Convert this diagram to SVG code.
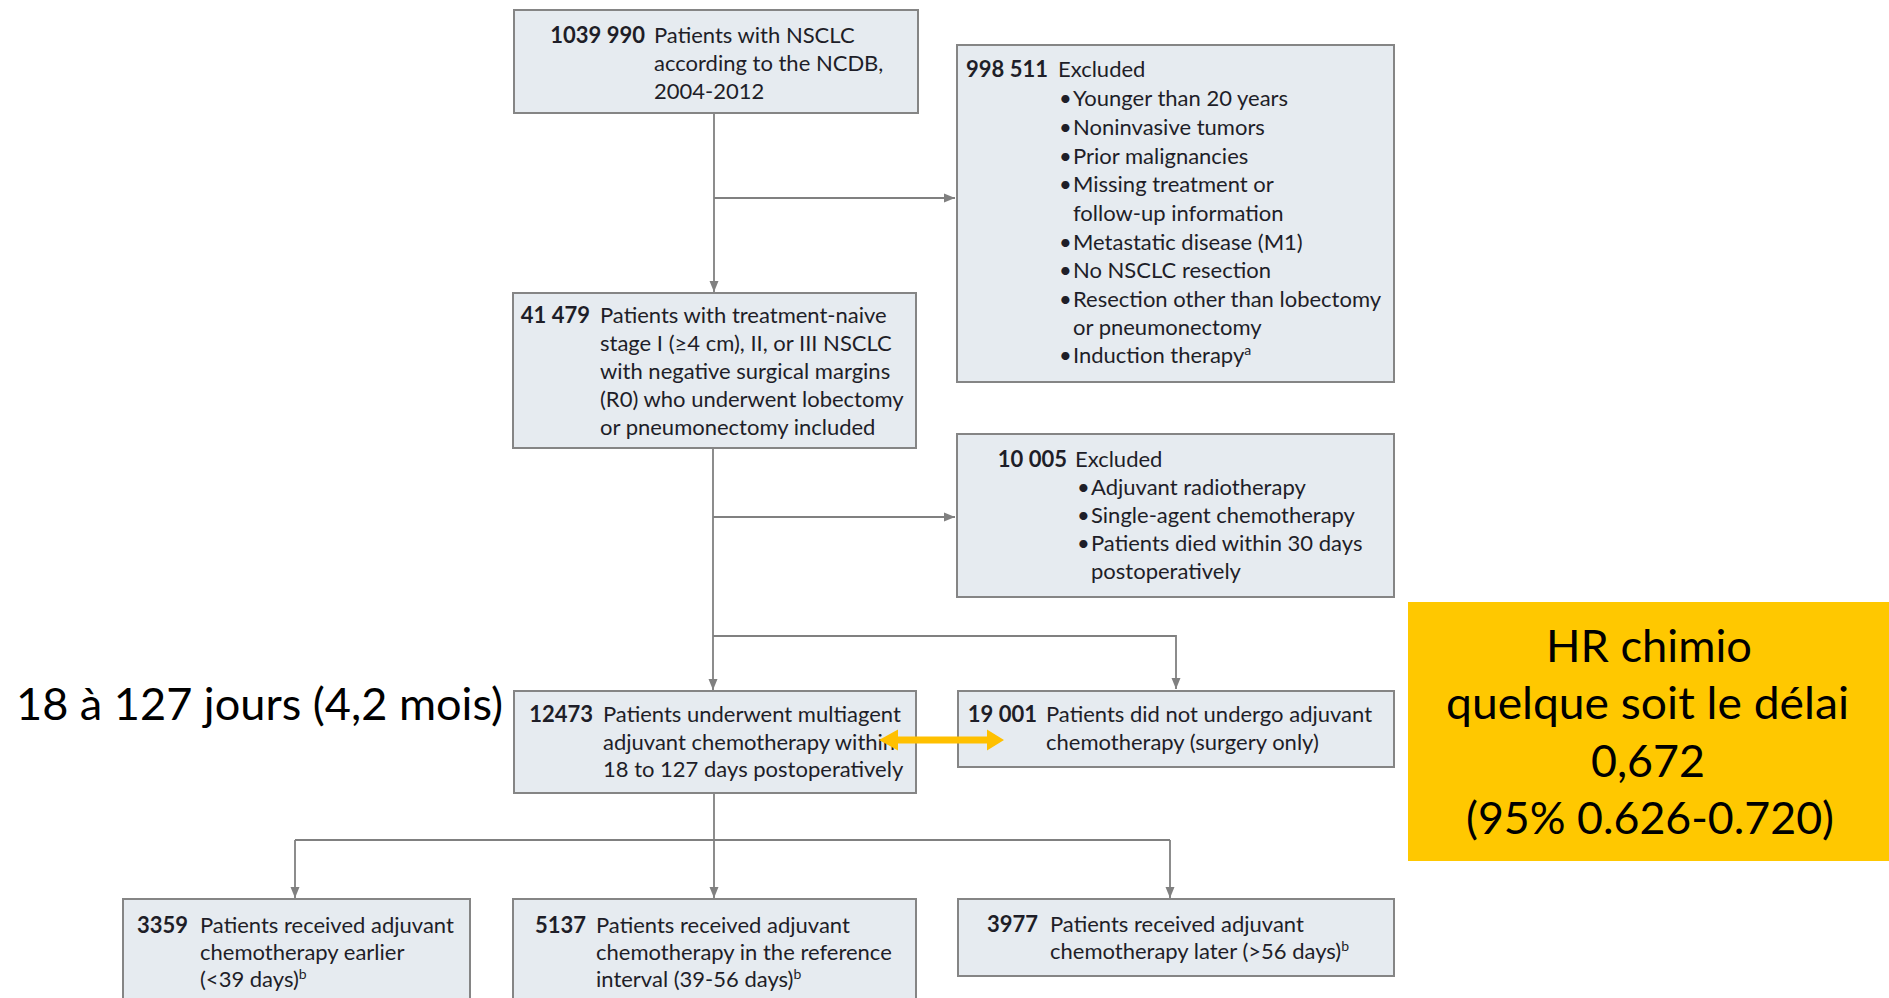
<svg xmlns="http://www.w3.org/2000/svg" width="1889" height="998" viewBox="0 0 1889 998">
  <style>
    .box { fill: #E6EBF0; stroke: #858585; stroke-width: 2; }
    .t { font-family: Lato, "Open Sans", "Liberation Sans", sans-serif; font-size: 22px; fill: #1E1E28; }
    .n { font-family: Lato, "Open Sans", "Liberation Sans", sans-serif; font-size: 22px; font-weight: bold; fill: #1E1E28; text-anchor: end; }
    .sup { font-size: 14px; }
    .wire { fill: none; stroke: #808080; stroke-width: 1.8; }
    .big { font-family: Lato, Carlito, "Open Sans", sans-serif; font-size: 44px; fill: #000; }
  </style>
  <defs>
    <marker id="ah" markerUnits="userSpaceOnUse" markerWidth="12" markerHeight="12" viewBox="0 0 12 12" refX="11" refY="6" orient="auto">
      <path d="M0,1.5 L11,6 L0,10.5 Z" fill="#808080"/>
    </marker>
  </defs>

  <!-- connectors -->
  <g id="connectors">
    <path class="wire" d="M714,113 V292" marker-end="url(#ah)"/>
    <path class="wire" d="M714,198 H955" marker-end="url(#ah)"/>
    <path class="wire" d="M713,448 V690" marker-end="url(#ah)"/>
    <path class="wire" d="M713,517 H955" marker-end="url(#ah)"/>
    <path class="wire" d="M713,636 H1176 V689" marker-end="url(#ah)"/>
    <path class="wire" d="M714,793 V898" marker-end="url(#ah)"/>
    <path class="wire" d="M295,840 H1170"/>
    <path class="wire" d="M295,840 V898" marker-end="url(#ah)"/>
    <path class="wire" d="M1170,840 V898" marker-end="url(#ah)"/>
  </g>

  <!-- source population -->
  <g id="n-ncdb">
    <rect class="box" x="514" y="10" width="404" height="103"/>
    <text class="n" x="645" y="43">1039 990</text>
    <text class="t" x="654" y="43">Patients with NSCLC</text>
    <text class="t" x="654" y="71">according to the NCDB,</text>
    <text class="t" x="654" y="99">2004-2012</text>
  </g>

  <!-- first exclusion -->
  <g id="n-excl1">
    <rect class="box" x="957" y="45" width="437" height="337"/>
    <text class="n" x="1048" y="77">998 511</text>
    <text class="t" x="1058" y="77">Excluded</text>
    <text class="t" x="1059" y="106">•</text><text class="t" x="1073" y="106">Younger than 20 years</text>
    <text class="t" x="1059" y="135">•</text><text class="t" x="1073" y="135">Noninvasive tumors</text>
    <text class="t" x="1059" y="164">•</text><text class="t" x="1073" y="164">Prior malignancies</text>
    <text class="t" x="1059" y="192">•</text><text class="t" x="1073" y="192">Missing treatment or</text>
    <text class="t" x="1073" y="221">follow-up information</text>
    <text class="t" x="1059" y="250">•</text><text class="t" x="1073" y="250">Metastatic disease (M1)</text>
    <text class="t" x="1059" y="278">•</text><text class="t" x="1073" y="278">No NSCLC resection</text>
    <text class="t" x="1059" y="307">•</text><text class="t" x="1073" y="307">Resection other than lobectomy</text>
    <text class="t" x="1073" y="335">or pneumonectomy</text>
    <text class="t" x="1059" y="363">•</text><text class="t" x="1073" y="363">Induction therapy<tspan class="sup" dy="-8">a</tspan></text>
  </g>

  <!-- included cohort -->
  <g id="n-included">
    <rect class="box" x="513" y="293" width="403" height="155"/>
    <text class="n" x="590" y="323">41 479</text>
    <text class="t" x="600" y="323">Patients with treatment-naive</text>
    <text class="t" x="600" y="351">stage I (≥4 cm), II, or III NSCLC</text>
    <text class="t" x="600" y="379">with negative surgical margins</text>
    <text class="t" x="600" y="407">(R0) who underwent lobectomy</text>
    <text class="t" x="600" y="435">or pneumonectomy included</text>
  </g>

  <!-- second exclusion -->
  <g id="n-excl2">
    <rect class="box" x="957" y="434" width="437" height="163"/>
    <text class="n" x="1067" y="467">10 005</text>
    <text class="t" x="1075" y="467">Excluded</text>
    <text class="t" x="1077" y="495">•</text><text class="t" x="1091" y="495">Adjuvant radiotherapy</text>
    <text class="t" x="1077" y="523">•</text><text class="t" x="1091" y="523">Single-agent chemotherapy</text>
    <text class="t" x="1077" y="551">•</text><text class="t" x="1091" y="551">Patients died within 30 days</text>
    <text class="t" x="1091" y="579">postoperatively</text>
  </g>

  <!-- multiagent chemotherapy -->
  <g id="n-chemo">
    <rect class="box" x="514" y="691" width="402" height="102"/>
    <text class="n" x="593" y="722">12473</text>
    <text class="t" x="603" y="722">Patients underwent multiagent</text>
    <text class="t" x="603" y="750">adjuvant chemotherapy within</text>
    <text class="t" x="603" y="777">18 to 127 days postoperatively</text>
  </g>

  <!-- surgery only -->
  <g id="n-surgery">
    <rect class="box" x="958" y="691" width="436" height="76"/>
    <text class="n" x="1037" y="722">19 001</text>
    <text class="t" x="1046" y="722">Patients did not undergo adjuvant</text>
    <text class="t" x="1046" y="750">chemotherapy (surgery only)</text>
  </g>

  <!-- timing groups -->
  <g id="n-early">
    <rect class="box" x="123" y="899" width="347" height="110"/>
    <text class="n" x="188" y="933">3359</text>
    <text class="t" x="200" y="933">Patients received adjuvant</text>
    <text class="t" x="200" y="960">chemotherapy earlier</text>
    <text class="t" x="200" y="987">(&lt;39 days)<tspan class="sup" dy="-8">b</tspan></text>
  </g>
  <g id="n-reference">
    <rect class="box" x="513" y="899" width="403" height="110"/>
    <text class="n" x="586" y="933">5137</text>
    <text class="t" x="596" y="933">Patients received adjuvant</text>
    <text class="t" x="596" y="960">chemotherapy in the reference</text>
    <text class="t" x="596" y="987">interval (39-56 days)<tspan class="sup" dy="-8">b</tspan></text>
  </g>
  <g id="n-late">
    <rect class="box" x="958" y="899" width="436" height="77"/>
    <text class="n" x="1038" y="932">3977</text>
    <text class="t" x="1050" y="932">Patients received adjuvant</text>
    <text class="t" x="1050" y="959">chemotherapy later (&gt;56 days)<tspan class="sup" dy="-8">b</tspan></text>
  </g>

  <!-- annotations -->
  <g id="n-delay-label">
    <text class="big" x="16" y="720" font-size="42" textLength="487" lengthAdjust="spacingAndGlyphs">18 à 127 jours (4,2 mois)</text>
  </g>

  <g id="n-compare-arrow">
    <path d="M879,740 L898,729.5 L898,736.5 L987,736.5 L987,729.5 L1004,740 L987,750.5 L987,743.5 L898,743.5 L898,750.5 Z" fill="#FFC000"/>
  </g>

  <g id="n-hr">
    <rect x="1408" y="602" width="481" height="259" fill="#FFC800"/>
    <text class="big" x="1546" y="662" textLength="206" lengthAdjust="spacingAndGlyphs">HR chimio</text>
    <text class="big" x="1446" y="719" textLength="403" lengthAdjust="spacingAndGlyphs">quelque soit le délai</text>
    <text class="big" x="1591" y="777" textLength="114" lengthAdjust="spacingAndGlyphs">0,672</text>
    <text class="big" x="1466" y="834" textLength="368" lengthAdjust="spacingAndGlyphs">(95% 0.626-0.720)</text>
  </g>
</svg>
